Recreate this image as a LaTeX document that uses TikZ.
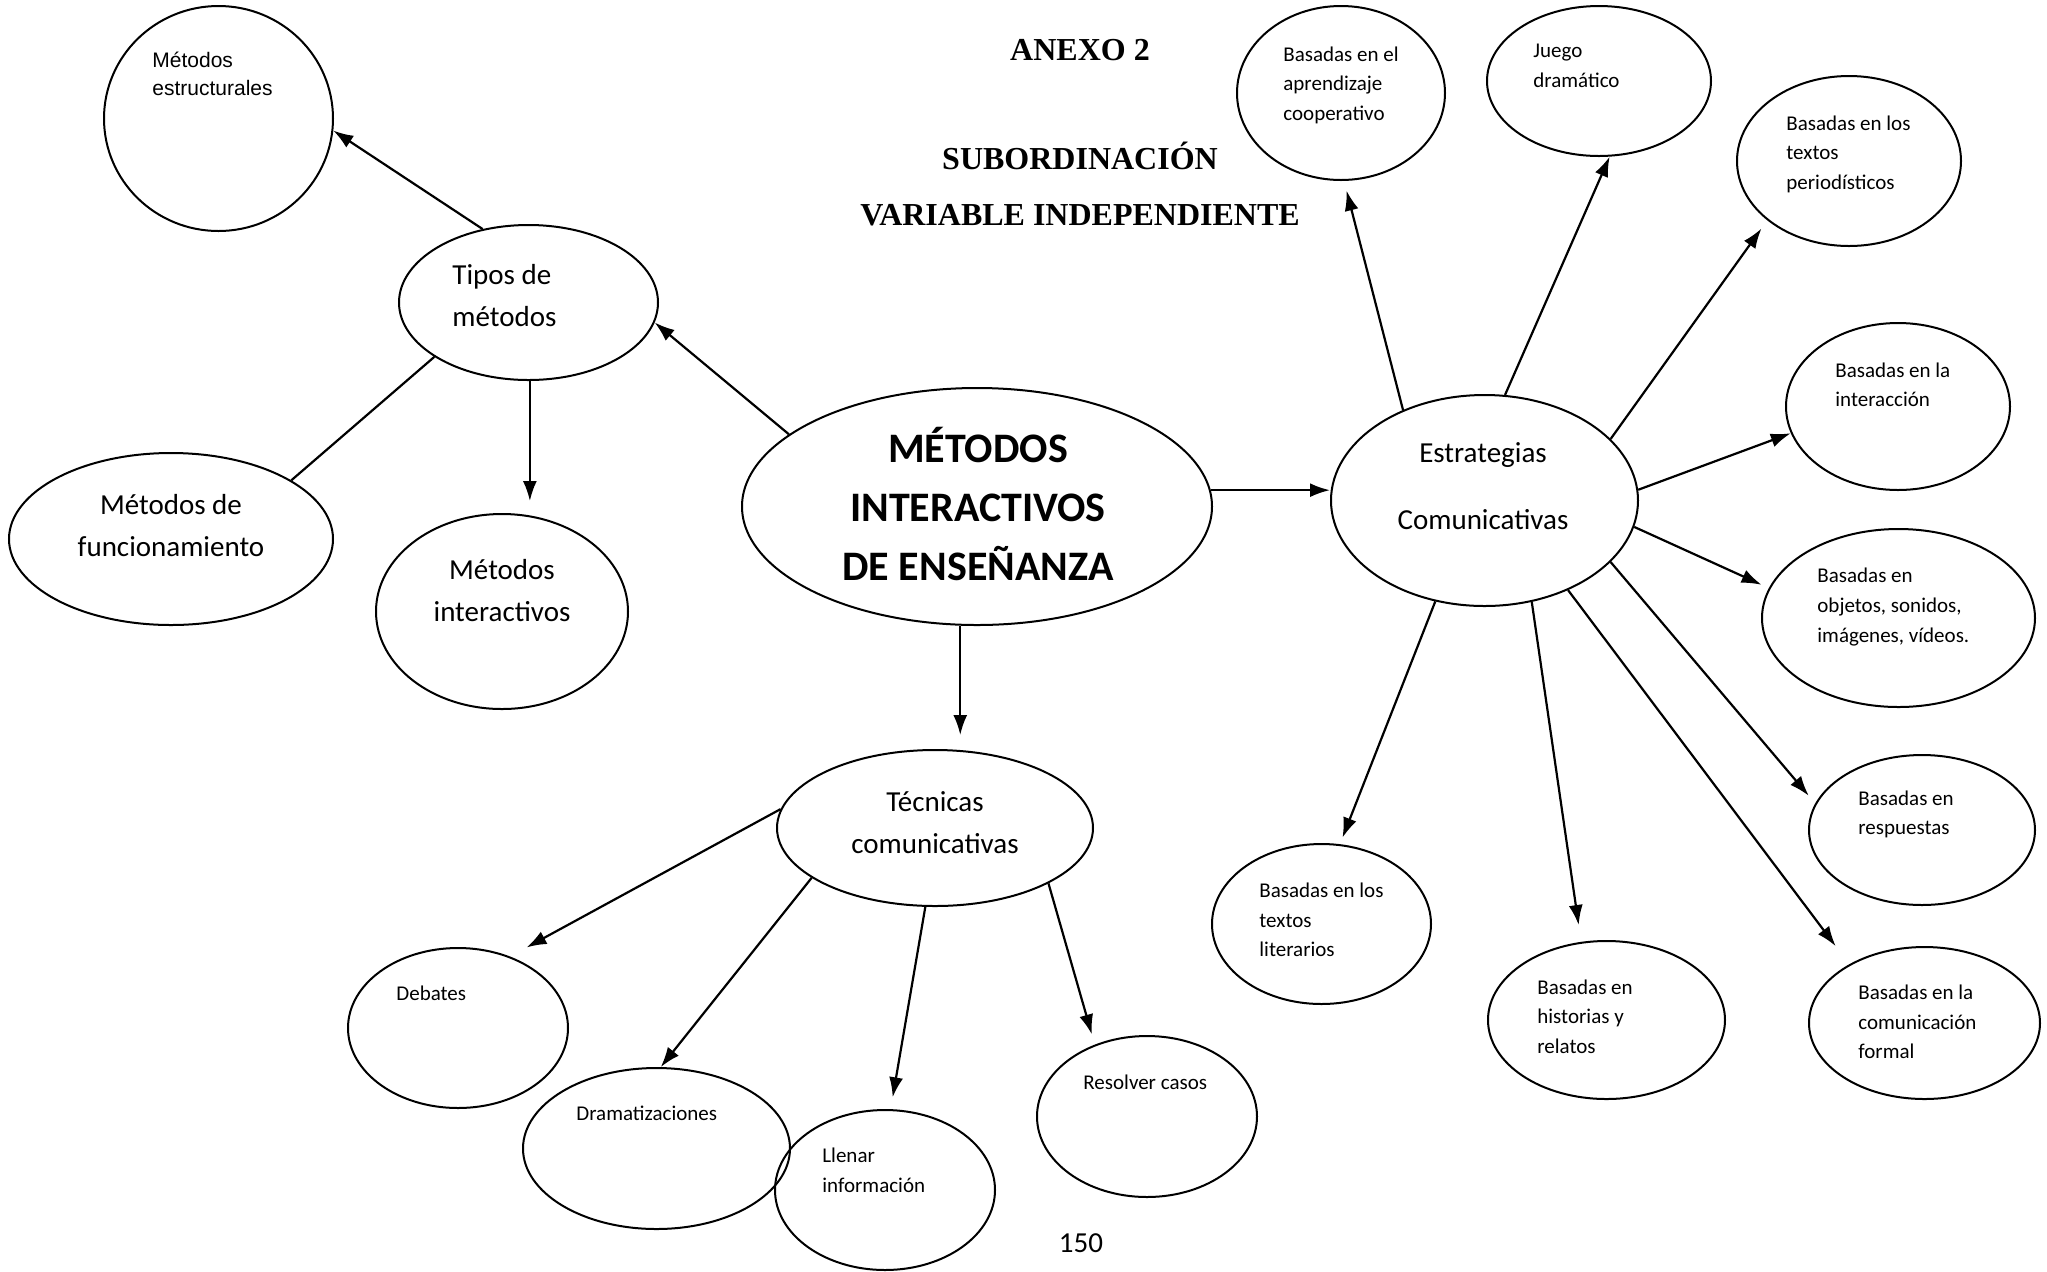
\documentclass[tikz,border=0pt]{standalone}
\usepackage{fontspec}
\setmainfont{Carlito}
\newfontfamily\tnr{Liberation Serif}
\newfontfamily\ari{Liberation Sans}
\usetikzlibrary{shapes.geometric,arrows.meta}
\tikzset{
  bub/.style={draw, ellipse, inner sep=0pt, line width=1pt},
  arr/.style={line width=1.1pt, -{Latex[length=10pt,width=7pt]}},
  lnk/.style={line width=1.1pt},
  sm/.style={inner sep=0pt, align=left, font=\fontsize{10.5pt}{14.75pt}\selectfont},
  esf/.style={inner sep=0pt, align=left, font=\ari\fontsize{10.5pt}{14pt}\selectfont},
  md/.style={inner sep=0pt, align=center, font=\fontsize{14.5pt}{21pt}\selectfont},
  big/.style={inner sep=0pt, align=center, font=\bfseries\fontsize{21pt}{29.5pt}\selectfont},
  ttl/.style={inner sep=0pt, font=\tnr\bfseries\fontsize{16pt}{19pt}\selectfont}
}
\begin{document}
\begin{tikzpicture}[x=0.5pt,y=-0.5pt]
\useasboundingbox[fill=white] (0,0) rectangle (2047,1271);

% ellipses (minimum width/height in pt = radius in px)
\node[bub, minimum width=114.5pt, minimum height=112.5pt] (es) at (218.5,118.5) {};
\node[bub, minimum width=129.5pt, minimum height=77.5pt] (tipos) at (528.5,302.5) {};
\node[bub, minimum width=162pt, minimum height=86pt] (func) at (171,539) {};
\node[bub, minimum width=126pt, minimum height=97.5pt] (mint) at (502,611.5) {};
\node[bub, minimum width=235pt, minimum height=118.5pt] (main) at (977,506.5) {};
\node[bub, minimum width=158pt, minimum height=78pt] (tec) at (935,828) {};
\node[bub, minimum width=110pt, minimum height=80pt] (deb) at (458,1028) {};
\node[bub, minimum width=133.5pt, minimum height=80.5pt] (dram) at (656.5,1148.5) {};
\node[bub, minimum width=110pt, minimum height=80pt] (llen) at (885,1190) {};
\node[bub, minimum width=110pt, minimum height=80.5pt] (res) at (1147,1116.5) {};
\node[bub, minimum width=153.5pt, minimum height=105.5pt] (est) at (1484.5,500.5) {};
\node[bub, minimum width=104pt, minimum height=87pt] (coop) at (1341,93) {};
\node[bub, minimum width=112pt, minimum height=75pt] (juego) at (1599,81) {};
\node[bub, minimum width=112pt, minimum height=85pt] (peri) at (1849,161) {};
\node[bub, minimum width=112pt, minimum height=83.5pt] (inter) at (1898,406.5) {};
\node[bub, minimum width=136.5pt, minimum height=89pt] (obj) at (1898.5,618) {};
\node[bub, minimum width=113pt, minimum height=75pt] (resp) at (1922,830) {};
\node[bub, minimum width=115.5pt, minimum height=76pt] (form) at (1924.5,1023) {};
\node[bub, minimum width=118.5pt, minimum height=79pt] (hist) at (1606.5,1020) {};
\node[bub, minimum width=109.5pt, minimum height=80pt] (lit) at (1321.5,924) {};

% texts
\node[esf, anchor=west] (t-es) at (152,74) {Métodos\\estructurales};
\node[md, align=left, anchor=west] (t-tipos) at (452,296) {Tipos de\\métodos};
\node[md] (t-func) at (171,526) {Métodos de\\funcionamiento};
\node[md] (t-mint) at (502,591) {Métodos\\interactivos};
\node[big] (t-main) at (978,504) {MÉTODOS\\INTERACTIVOS\\DE ENSEÑANZA};
\node[md] (t-tec) at (935,822.5) {Técnicas\\comunicativas};
\node[md, font=\fontsize{14.5pt}{33.5pt}\selectfont] (t-est) at (1483,486.5) {Estrategias\\Comunicativas};
\node[sm, anchor=west] (t-coop) at (1283,85) {Basadas en el\\aprendizaje\\cooperativo};
\node[sm, anchor=west] (t-juego) at (1533,66) {Juego\\dramático};
\node[sm, anchor=west] (t-peri) at (1786,154) {Basadas en los\\textos\\periodísticos};
\node[sm, anchor=west] (t-inter) at (1835,385) {Basadas en la\\interacción};
\node[sm, anchor=west] (t-obj) at (1817,607) {Basadas en\\objetos, sonidos,\\imágenes, vídeos.};
\node[sm, anchor=west] (t-resp) at (1858,814.5) {Basadas en\\respuestas};
\node[sm, anchor=west] (t-form) at (1858,1022) {Basadas en la\\comunicación\\formal};
\node[sm, anchor=west] (t-hist) at (1537,1016.5) {Basadas en\\historias y\\relatos};
\node[sm, anchor=west] (t-lit) at (1259,920) {Basadas en los\\textos\\literarios};
\node[sm, anchor=west] (t-deb) at (396,993) {Debates};
\node[sm, anchor=west] (t-dram) at (576,1113) {Dramatizaciones};
\node[sm, anchor=west] (t-llen) at (822,1170.5) {Llenar\\información};
\node[sm, anchor=west] (t-res) at (1083,1082) {Resolver casos};
\node[ttl, anchor=base] (t-anexo) at (1080,60) {ANEXO 2};
\node[ttl, anchor=base] (t-sub) at (1080,169) {SUBORDINACIÓN};
\node[ttl, anchor=base] (t-var) at (1080,225) {VARIABLE INDEPENDIENTE};
\node[md] (t-page) at (1081,1243) {150};

% connectors
\draw[arr] (main.159.1) -- (tipos.-9.8);
\draw[arr] (tipos.122.6) -- (es.-6.6);
\draw[lnk] (tipos.-150.3) -- (func.26.6);
\draw[arr, shorten >=6pt] (tipos.-89) -- (tipos.-89 |- mint.north);
\draw[arr, shorten >=7pt] (main.-98.6) -- (main.-98.6 |- tec.north);
\draw[arr] (main.4.2) -- (main.4.2 -| est.west);
\draw[arr, shorten >=9.4pt] (tec.173.8) -- (deb.54.6);
\draw[arr] (tec.-158.1) -- (dram.87.5);
\draw[arr, shorten >=6pt] (tec.-97.3) -- (llen.86.4);
\draw[arr, shorten >=5.3pt] (tec.-26.1) -- (res.126.7);
\draw[arr, shorten >=5pt] (est.132.1) -- (coop.-88.7);
\draw[arr] (est.79.5) -- (juego.-82.4);
\draw[arr, shorten >=5pt] (est.26.8) -- (peri.-144.9);
\draw[arr] (est.4.3) -- (inter.-166.6);
\draw[arr, shorten >=4pt] (est.-10.6) -- (obj.167.5);
\draw[arr, shorten >=5pt] (est.-26.3) -- (resp.166.6);
\draw[arr, shorten >=11.3pt] (est.-47.4) -- (form.142.2);
\draw[arr, shorten >=8.5pt] (est.-65.1) -- (hist.108.7);
\draw[arr, shorten >=3.5pt] (est.-116.7) -- (lit.77.1);
\end{tikzpicture}
\end{document}
